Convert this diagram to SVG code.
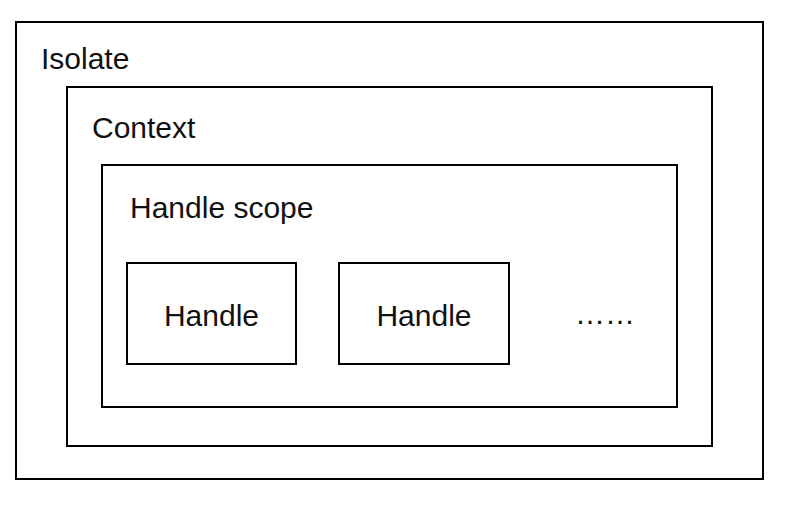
<svg xmlns="http://www.w3.org/2000/svg" width="790" height="506" viewBox="0 0 790 506">
<style>
rect.box{fill:none;stroke:#000;stroke-width:2}
text{font-family:"Liberation Sans",Arial,sans-serif;font-size:30px;fill:#111}
</style>
<rect width="790" height="506" fill="#fff"/>
<g id="isolate"><rect class="box" x="16" y="22" width="747" height="457"/><text x="41" y="69">Isolate</text></g>
<g id="context"><rect class="box" x="67" y="87" width="645" height="359"/><text x="92" y="138">Context</text></g>
<g id="handle-scope"><rect class="box" x="102" y="165" width="575" height="242"/><text x="130" y="218">Handle scope</text></g>
<g id="handle1"><rect class="box" x="127" y="263" width="169" height="101"/><text x="211.5" y="326" text-anchor="middle">Handle</text></g>
<g id="handle2"><rect class="box" x="339" y="263" width="170" height="101"/><text x="424" y="326" text-anchor="middle">Handle</text></g>
<g id="more"><text x="605" y="324" text-anchor="middle">……</text></g>
<g id="connectors"></g>
</svg>
